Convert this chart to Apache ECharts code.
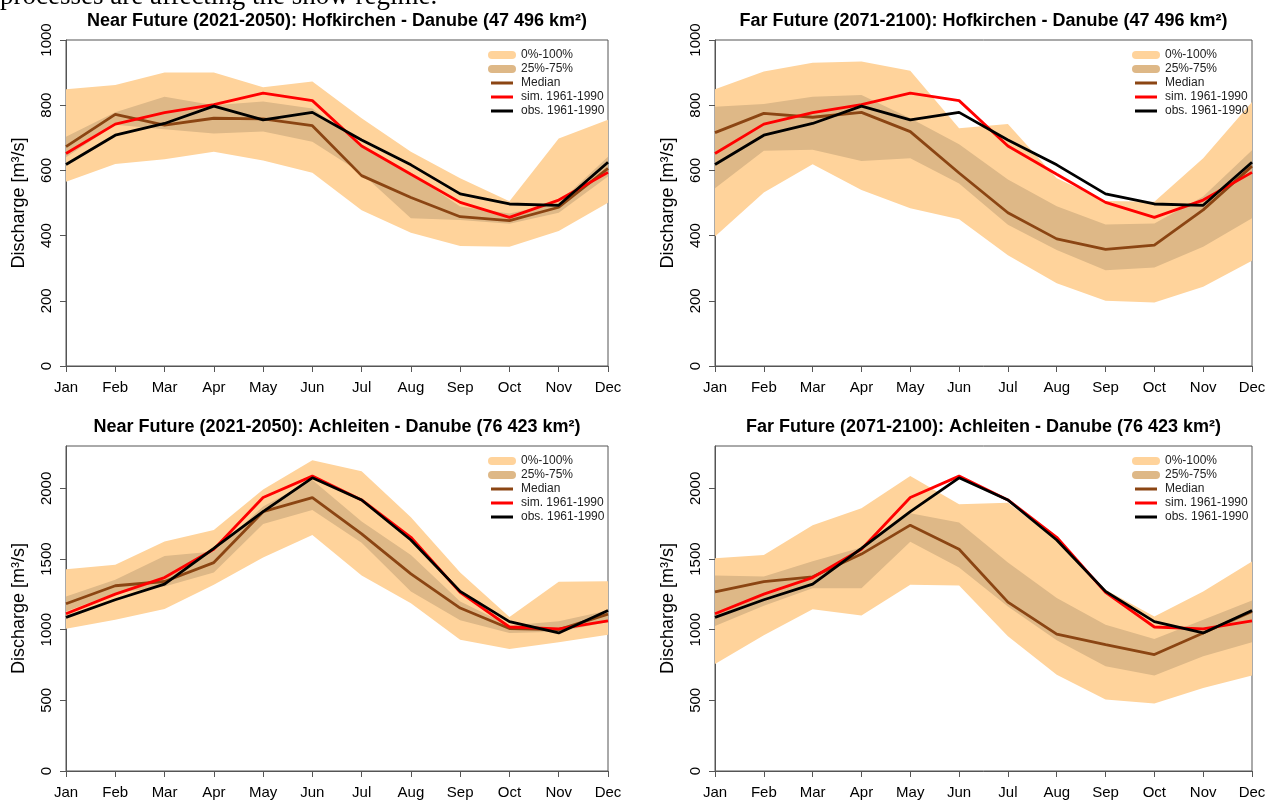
<!DOCTYPE html>
<html>
<head>
<meta charset="utf-8">
<script src="https://cdn.jsdelivr.net/npm/echarts@6/dist/echarts.min.js"></script>
<style>
  html, body { margin: 0; padding: 0; background: #fff; }
  #chart { width: 1285px; height: 800px; }
</style>
</head>
<body>
<div id="chart"></div>
<script>
// categories
const months = ['Jan', 'Feb', 'Mar', 'Apr', 'May', 'Jun', 'Jul', 'Aug', 'Sep', 'Oct', 'Nov', 'Dec']

// Hofkirchen 1961-1990
const hofObs = [618, 708, 744, 797, 755, 778, 693, 617, 528, 497, 493, 625]
const hofSim = [652, 742, 777, 802, 837, 814, 675, 588, 502, 456, 509, 594]

// Hofkirchen near future (2021-2050)
const hofNearMin = [565, 620, 634, 657, 630, 593, 478, 409, 368, 366, 414, 501]
const hofNearQ25 = [640, 740, 726, 713, 719, 688, 591, 453, 448, 436, 470, 581]
const hofNearMed = [673, 772, 739, 760, 758, 737, 584, 517, 458, 446, 487, 606]
const hofNearQ75 = [703, 778, 826, 800, 811, 790, 678, 591, 489, 468, 501, 642]
const hofNearMax = [849, 862, 900, 900, 855, 873, 760, 657, 576, 505, 698, 755]

// Hofkirchen far future (2071-2100)
const hofFarMin = [397, 532, 619, 540, 484, 450, 340, 254, 200, 195, 243, 323]
const hofFarQ25 = [545, 660, 663, 629, 637, 560, 433, 356, 294, 302, 366, 453]
const hofFarMed = [716, 775, 763, 778, 719, 592, 470, 390, 358, 371, 479, 613]
const hofFarQ75 = [795, 804, 826, 831, 760, 680, 572, 490, 434, 437, 520, 662]
const hofFarMax = [849, 903, 930, 934, 906, 729, 742, 576, 506, 504, 637, 810]

// Achleiten 1961-1990
const achObs = [1087, 1212, 1322, 1576, 1835, 2075, 1918, 1635, 1271, 1057, 977, 1136]
const achSim = [1113, 1252, 1369, 1569, 1936, 2087, 1918, 1654, 1264, 1019, 1006, 1062]

// Achleiten near future (2021-2050)
const achNearMin = [1007, 1071, 1146, 1318, 1511, 1671, 1384, 1188, 929, 864, 912, 965]
const achNearQ25 = [1129, 1259, 1306, 1405, 1748, 1847, 1616, 1271, 1066, 977, 985, 1055]
const achNearMed = [1184, 1311, 1341, 1475, 1835, 1934, 1678, 1395, 1153, 1008, 1000, 1110]
const achNearQ75 = [1235, 1353, 1522, 1553, 1871, 2059, 1765, 1529, 1200, 1030, 1059, 1135]
const achNearMax = [1428, 1459, 1624, 1706, 1993, 2200, 2122, 1795, 1405, 1089, 1340, 1343]

// Achleiten far future (2071-2100)
const achFarMin = [757, 960, 1144, 1101, 1318, 1313, 953, 682, 506, 478, 588, 675]
const achFarQ25 = [1026, 1170, 1294, 1294, 1623, 1440, 1165, 925, 741, 675, 812, 911]
const achFarMed = [1267, 1340, 1374, 1535, 1740, 1569, 1195, 969, 894, 824, 976, 1129]
const achFarQ75 = [1384, 1376, 1484, 1582, 1824, 1758, 1475, 1224, 1035, 934, 1071, 1207]
const achFarMax = [1506, 1528, 1740, 1859, 2087, 1887, 1899, 1635, 1282, 1094, 1271, 1482]

// y tick labels
const hofTicks = [0, 200, 400, 600, 800, 1000]
const achTicks = [0, 500, 1000, 1500, 2000]

const FONT = '"Liberation Sans", Arial, sans-serif'
const C_OUTER = '#FFD39B'
const C_INNER = '#DEB887'
const C_MED = '#8B4513'
const C_SIM = '#FF0000'
const C_OBS = '#000000'
const C_AXIS = '#555555'

const panels = [
  { title: 'Near Future (2021-2050): Hofkirchen - Danube (47 496 km²)', left: 66, top: 40, width: 542,
    yMax: 1000, ticks: hofTicks, min: hofNearMin, q25: hofNearQ25, med: hofNearMed, q75: hofNearQ75, max: hofNearMax, sim: hofSim, obs: hofObs },
  { title: 'Far Future (2071-2100): Hofkirchen - Danube (47 496 km²)', left: 715, top: 40, width: 537,
    yMax: 1000, ticks: hofTicks, min: hofFarMin, q25: hofFarQ25, med: hofFarMed, q75: hofFarQ75, max: hofFarMax, sim: hofSim, obs: hofObs },
  { title: 'Near Future (2021-2050): Achleiten - Danube (76 423 km²)', left: 66, top: 446, width: 542,
    yMax: 2300, ticks: achTicks, min: achNearMin, q25: achNearQ25, med: achNearMed, q75: achNearQ75, max: achNearMax, sim: achSim, obs: achObs },
  { title: 'Far Future (2071-2100): Achleiten - Danube (76 423 km²)', left: 715, top: 446, width: 537,
    yMax: 2300, ticks: achTicks, min: achFarMin, q25: achFarQ25, med: achFarMed, q75: achFarQ75, max: achFarMax, sim: achSim, obs: achObs }
]
const plotH = 326

const bandIcon = 'path://M4,0L24,0A4,4,0,0,1,24,8L4,8A4,4,0,0,1,4,0Z'
const lineIcon = 'path://M0,4L0,4.01L0.01,4Z M3,2.6L25,2.6L25,5.4L3,5.4Z M28,4L28,4.01L27.99,4Z'

const grids = [], xAxes = [], yAxes = [], series = [], legends = [], graphics = []

panels.forEach(function(p, i) {
  grids.push({
    left: p.left, top: p.top, width: p.width, height: plotH,
    show: true, borderColor: C_AXIS, borderWidth: 1, backgroundColor: 'transparent'
  })
  xAxes.push({
    type: 'category', gridIndex: i, data: months, boundaryGap: false,
    axisLine: { show: true, lineStyle: { color: C_AXIS, width: 1 } },
    axisTick: { show: true, length: 6, alignWithLabel: true, lineStyle: { color: C_AXIS } },
    axisLabel: { interval: 0, margin: 14, color: '#000', fontSize: 15, fontFamily: FONT },
    splitLine: { show: false }
  })
  yAxes.push({
    type: 'value', gridIndex: i, min: 0, max: p.yMax,
    name: 'Discharge [m³/s]', nameLocation: 'middle', nameGap: 38,
    nameTextStyle: { color: '#000', fontSize: 18, fontFamily: FONT },
    axisLine: { show: true, lineStyle: { color: C_AXIS, width: 1 } },
    axisTick: { show: true, length: 6, customValues: p.ticks, lineStyle: { color: C_AXIS } },
    axisLabel: {
      rotate: 90, margin: 12, customValues: p.ticks, color: '#000', fontSize: 15, fontFamily: FONT,
      formatter: function(v) { return String(v) }
    },
    splitLine: { show: false }
  })

  const common = { type: 'line', xAxisIndex: i, yAxisIndex: i, symbol: 'none', silent: true, animation: false }
  // 0%-100% band
  series.push(Object.assign({}, common, {
    data: p.min, stack: 'outer' + i, lineStyle: { opacity: 0, width: 0 }
  }))
  series.push(Object.assign({}, common, {
    name: '0%-100%', data: p.max.map(function(v, k) { return v - p.min[k] }), stack: 'outer' + i,
    lineStyle: { opacity: 0, width: 0 }, itemStyle: { color: C_OUTER },
    areaStyle: { color: C_OUTER, opacity: 1 }
  }))
  // 25%-75% band
  series.push(Object.assign({}, common, {
    data: p.q25, stack: 'inner' + i, lineStyle: { opacity: 0, width: 0 }
  }))
  series.push(Object.assign({}, common, {
    name: '25%-75%', data: p.q75.map(function(v, k) { return v - p.q25[k] }), stack: 'inner' + i,
    lineStyle: { opacity: 0, width: 0 }, itemStyle: { color: C_INNER },
    areaStyle: { color: C_INNER, opacity: 1 }
  }))
  series.push(Object.assign({}, common, {
    name: 'Median', data: p.med, lineStyle: { color: C_MED, width: 2.8 }, itemStyle: { color: C_MED }
  }))
  series.push(Object.assign({}, common, {
    name: 'sim. 1961-1990', data: p.sim, lineStyle: { color: C_SIM, width: 2.8 }, itemStyle: { color: C_SIM }
  }))
  series.push(Object.assign({}, common, {
    name: 'obs. 1961-1990', data: p.obs, lineStyle: { color: C_OBS, width: 2.8 }, itemStyle: { color: C_OBS }
  }))

  legends.push({
    orient: 'vertical', left: p.left + p.width - 120, top: p.top + 8, padding: 0,
    itemWidth: 28, itemHeight: 8, itemGap: 0, selectedMode: false,
    textStyle: { fontSize: 12, color: '#222', fontFamily: FONT, lineHeight: 14 },
    data: [
      { name: '0%-100%', icon: bandIcon, itemStyle: { color: C_OUTER } },
      { name: '25%-75%', icon: bandIcon, itemStyle: { color: C_INNER } },
      { name: 'Median', icon: lineIcon, itemStyle: { color: C_MED } },
      { name: 'sim. 1961-1990', icon: lineIcon, itemStyle: { color: C_SIM } },
      { name: 'obs. 1961-1990', icon: lineIcon, itemStyle: { color: C_OBS } }
    ]
  })

  graphics.push({
    type: 'text', x: p.left + p.width / 2, y: p.top - 19, silent: true,
    style: { text: p.title, font: 'bold 18px ' + FONT, fill: '#000', align: 'center', verticalAlign: 'middle' }
  })
})

// cut-off line of body text above the figure
graphics.push({
  type: 'text', x: 0, y: -3, silent: true,
  style: { text: 'processes are affecting the snow regime.', font: '27px "Liberation Serif", "Times New Roman", serif',
    fill: '#000', align: 'left', verticalAlign: 'middle' }
})

const chart = echarts.init(document.getElementById('chart'))
chart.setOption({
  animation: false,
  backgroundColor: '#fff',
  grid: grids,
  xAxis: xAxes,
  yAxis: yAxes,
  legend: legends,
  graphic: graphics,
  series: series
})
</script>
</body>
</html>
